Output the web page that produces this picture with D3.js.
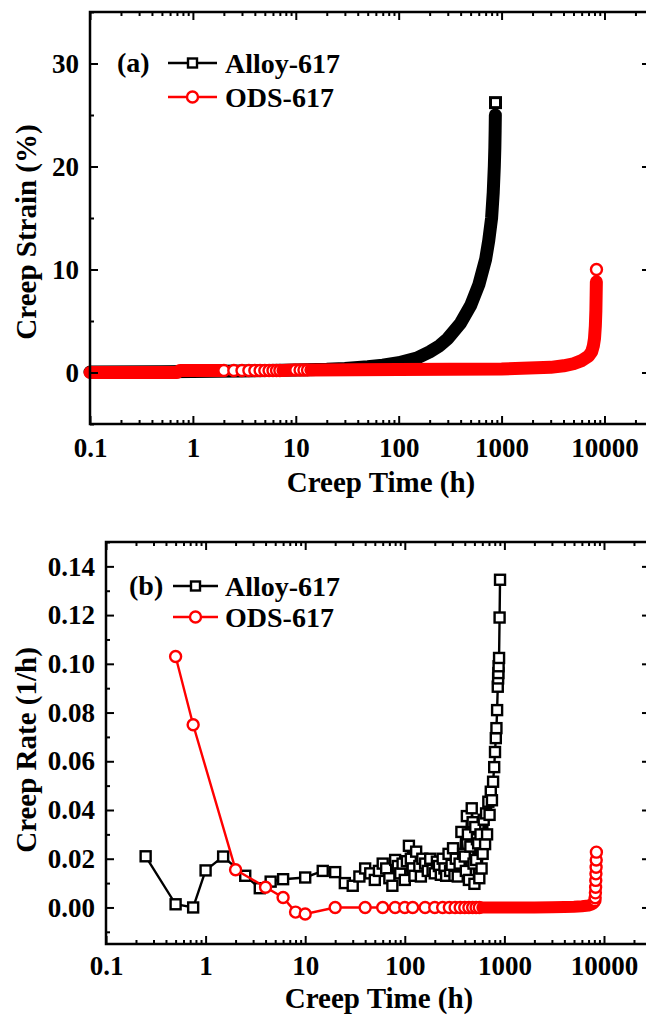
<!DOCTYPE html>
<html>
<head>
<meta charset="utf-8">
<script src="https://cdn.jsdelivr.net/npm/d3@7"></script>
<style>
body { margin: 0; background: #fff; }
svg text { font-family: "Liberation Serif", "Times New Roman", serif; font-weight: bold; }
</style>
</head>
<body>
<div id="chart"></div>
<script>
// ---- data ----
// (a) creep strain (%) vs creep time (h)
var alloyStrainT = [0.1, 0.5, 1, 3, 10, 20, 30, 50, 70, 100, 150, 200, 250, 300, 400, 500, 600, 700, 750, 800, 830, 850, 860, 866, 870, 873];
var alloyStrainV = [0.05, 0.08, 0.1, 0.15, 0.25, 0.32, 0.4, 0.55, 0.7, 0.95, 1.4, 2.0, 2.6, 3.3, 4.8, 6.5, 8.5, 11.0, 12.8, 15.0, 17.5, 20.0, 21.8, 23.5, 25.0, 26.2];
var odsStrainT = [0.1, 0.7, 0.75, 1.9, 2, 2.5, 3, 3.5, 4, 4.5, 5, 5.5, 6, 6.5, 7, 7.5, 9.5, 10, 11, 12, 13, 14, 100, 1000, 3000, 4000, 5000, 6000, 7000, 7500, 7800, 8000, 8150, 8250, 8300, 8340, 8360];
var odsStrainV = [0.0, 0.0, 0.2, 0.2, 0.2, 0.2, 0.2, 0.2, 0.2, 0.2, 0.2, 0.2, 0.2, 0.2, 0.2, 0.2, 0.25, 0.25, 0.25, 0.25, 0.25, 0.25, 0.3, 0.35, 0.5, 0.65, 0.85, 1.15, 1.6, 2.0, 2.6, 3.3, 4.5, 6.0, 7.5, 8.8, 10.0];

// (b) creep rate (1/h) vs creep time (h)
var alloyRateT = [0.25, 0.5, 0.75, 1, 1.5, 2.5, 3.5, 4.5, 6, 10, 15, 20, 25, 30, 35, 40, 45, 50, 55, 60, 65, 70, 75, 80, 85, 90, 95, 100, 105, 110, 115, 120, 125, 130, 140, 145, 150, 160, 170, 180, 190, 200, 210, 220, 230, 240, 250, 260, 275, 285, 295, 305, 315, 325, 340, 355, 370, 385, 400, 410, 420, 430, 440, 455, 470, 480, 490, 500, 510, 520, 530, 545, 560, 575, 590, 605, 620, 640, 655, 670, 690, 710, 730, 750, 770, 790, 805, 820, 832, 845, 858, 865, 870, 875, 884, 895, 904];
var alloyRateV = [0.0210, 0.0013, 0.0000, 0.0152, 0.0209, 0.0130, 0.0079, 0.0106, 0.0116, 0.0123, 0.0150, 0.0145, 0.0100, 0.0089, 0.0127, 0.0160, 0.0140, 0.0113, 0.0150, 0.0180, 0.0160, 0.0120, 0.0089, 0.0195, 0.0170, 0.0140, 0.0180, 0.0113, 0.0190, 0.0253, 0.0200, 0.0160, 0.0130, 0.0229, 0.0170, 0.0127, 0.0200, 0.0180, 0.0150, 0.0200, 0.0154, 0.0140, 0.0188, 0.0170, 0.0134, 0.0200, 0.0160, 0.0130, 0.0220, 0.0150, 0.0175, 0.0243, 0.0130, 0.0200, 0.0127, 0.0180, 0.0310, 0.0220, 0.0209, 0.0150, 0.0375, 0.0300, 0.0113, 0.0250, 0.0407, 0.0350, 0.0180, 0.0097, 0.0330, 0.0195, 0.0280, 0.0263, 0.0120, 0.0300, 0.0160, 0.0220, 0.0360, 0.0260, 0.0386, 0.0300, 0.0434, 0.0380, 0.0475, 0.0440, 0.0516, 0.0576, 0.0638, 0.0695, 0.0736, 0.0810, 0.0906, 0.0940, 0.0962, 0.0990, 0.1024, 0.1190, 0.1345];
var odsRateT = [0.5, 0.75, 2, 4, 6, 8, 10, 20, 40, 60, 80, 100, 120, 160, 200, 240, 280, 320, 360, 400, 440, 480, 520, 560, 600, 800, 1000, 2000, 3000, 4000, 5000, 6000, 7000, 7500, 7800, 8000, 8100, 8150, 8200, 8240, 8270, 8300, 8330, 8360, 8390];
var odsRateV = [0.103, 0.075, 0.0155, 0.0083, 0.0041, -0.0019, -0.0027, 0, 0, 0, 0, 0, 0, 0, 0, 0, 0, 0, 0, 0, 0, 0, 0, 0, 0, 0, 0, 0, 0.0001, 0.0002, 0.0003, 0.0005, 0.0008, 0.0012, 0.0016, 0.0020, 0.0028, 0.0040, 0.0060, 0.0083, 0.0111, 0.0138, 0.0165, 0.0195, 0.0227];

// tick labels
var timeTicks = [0.1, 1, 10, 100, 1000, 10000];
var timeTickLabels = ["0.1", "1", "10", "100", "1000", "10000"];
var strainTicks = [0, 10, 20, 30];
var strainTickLabels = ["0", "10", "20", "30"];
var rateTicks = [0, 0.02, 0.04, 0.06, 0.08, 0.10, 0.12, 0.14];
var rateTickLabels = ["0.00", "0.02", "0.04", "0.06", "0.08", "0.10", "0.12", "0.14"];
var seriesNames = ["Alloy-617", "ODS-617"];

// ---- layout ----
var W = 646, H = 1018;
var svg = d3.select("#chart").append("svg")
  .attr("width", W)
  .attr("height", H);

var panelA = {left: 90, right: 650, top: 12, bottom: 424, xMax: 27700, yDom: [-5, 35], pad: 14};
var panelB = {left: 106, right: 650, top: 542, bottom: 944, xMax: 28970, yDom: [-0.015, 0.15], pad: 12};

var xMinor = [];
[0.1, 1, 10, 100, 1000, 10000].forEach(function(d){
  for (var m = 2; m <= 9; m++) xMinor.push(m*d);
});

function drawFrame(p, x, y, yMajor, yLabels, yMinor){
  var fontSize = 27;
  var xMin = xMinor.filter(function(d){ return d < x.domain()[1]; });
  function style(g){
    g.select(".domain").remove();
    g.selectAll("line").attr("stroke", "#000").attr("stroke-width", 2);
    g.attr("font-size", fontSize).attr("font-family", null);
    g.selectAll("text").attr("fill", "#000");
  }
  // bottom
  svg.append("g").attr("transform", "translate(0," + p.bottom + ")")
    .call(d3.axisBottom(x).tickValues(timeTicks).tickFormat(function(d, i){ return timeTickLabels[i]; })
      .tickSizeInner(-8).tickSizeOuter(0).tickPadding(p.pad))
    .call(style);
  svg.append("g").attr("transform", "translate(0," + p.bottom + ")")
    .call(d3.axisBottom(x).tickValues(xMin).tickFormat("").tickSizeInner(-4).tickSizeOuter(0))
    .call(style);
  // top
  svg.append("g").attr("transform", "translate(0," + p.top + ")")
    .call(d3.axisTop(x).tickValues(timeTicks).tickFormat("").tickSizeInner(-8).tickSizeOuter(0))
    .call(style);
  svg.append("g").attr("transform", "translate(0," + p.top + ")")
    .call(d3.axisTop(x).tickValues(xMin).tickFormat("").tickSizeInner(-4).tickSizeOuter(0))
    .call(style);
  // left
  svg.append("g").attr("transform", "translate(" + p.left + ",0)")
    .call(d3.axisLeft(y).tickValues(yMajor).tickFormat(function(d, i){ return yLabels[i]; })
      .tickSizeInner(-8).tickSizeOuter(0).tickPadding(11))
    .call(style);
  svg.append("g").attr("transform", "translate(" + p.left + ",0)")
    .call(d3.axisLeft(y).tickValues(yMinor).tickFormat("").tickSizeInner(-4).tickSizeOuter(0))
    .call(style);
  // right
  svg.append("g").attr("transform", "translate(" + p.right + ",0)")
    .call(d3.axisRight(y).tickValues(yMajor).tickFormat("").tickSizeInner(-8).tickSizeOuter(0))
    .call(style);
  svg.append("g").attr("transform", "translate(" + p.right + ",0)")
    .call(d3.axisRight(y).tickValues(yMinor).tickFormat("").tickSizeInner(-4).tickSizeOuter(0))
    .call(style);

  svg.append("rect")
    .attr("x", p.left).attr("y", p.top)
    .attr("width", p.right - p.left).attr("height", p.bottom - p.top)
    .attr("fill", "none").attr("stroke", "#000").attr("stroke-width", 2.5);
}

function marker(g, shape, cx, cy, color, size, sw){
  if (shape == "square"){
    g.append("rect")
      .attr("x", cx - size/2).attr("y", cy - size/2)
      .attr("width", size).attr("height", size)
      .attr("fill", "#fff").attr("stroke", color).attr("stroke-width", sw);
  } else {
    g.append("circle")
      .attr("cx", cx).attr("cy", cy).attr("r", size/2)
      .attr("fill", "#fff").attr("stroke", color).attr("stroke-width", sw);
  }
}

// solid: time ranges where the symbols are so dense they merge into one thick band
function drawSeries(g, x, y, ts, vs, o){
  var pts = ts.map(function(t, i){ return [x(t), y(vs[i]), t]; });
  var line = d3.line();
  g.append("path")
    .attr("d", line(pts.map(function(p){ return [p[0], p[1]]; })))
    .attr("fill", "none").attr("stroke", o.color).attr("stroke-width", 2.4);

  function inSolid(t){
    return (o.solid || []).some(function(r){ return t >= r[0] && t <= r[1]; });
  }
  // walk runs in data order so later symbols cover earlier ones
  var runs = [];
  pts.forEach(function(p){
    var s = inSolid(p[2]);
    if (!runs.length || runs[runs.length-1].solid != s) runs.push({solid: s, pts: []});
    runs[runs.length-1].pts.push(p);
  });
  runs.forEach(function(r){
    if (r.solid){
      g.append("path")
        .attr("d", line(r.pts.map(function(p){ return [p[0], p[1]]; })))
        .attr("fill", "none").attr("stroke", o.color)
        .attr("stroke-width", o.band)
        .attr("stroke-linejoin", "round").attr("stroke-linecap", "round");
    } else {
      r.pts.forEach(function(p){ marker(g, o.shape, p[0], p[1], o.color, o.size, o.sw); });
    }
  });
}

function legend(items, label, lx, ly, gap){
  svg.append("text").attr("x", lx).attr("y", ly[0] + 9).attr("font-size", 28).text(label);
  items.forEach(function(it, i){
    var yy = ly[i];
    svg.append("line")
      .attr("x1", gap[0]).attr("x2", gap[1]).attr("y1", yy).attr("y2", yy)
      .attr("stroke", it.color).attr("stroke-width", 2.6);
    marker(svg, it.shape, (gap[0] + gap[1])/2, yy, it.color, it.size, 2.4);
    svg.append("text").attr("x", gap[2]).attr("y", yy + 10).attr("font-size", 28).text(seriesNames[i]);
  });
}

// ---- panel (a) ----
var xA = d3.scaleLog().domain([0.1, panelA.xMax]).range([panelA.left, panelA.right]);
var yA = d3.scaleLinear().domain(panelA.yDom).range([panelA.bottom, panelA.top]);
var gA = svg.append("g");
drawSeries(gA, xA, yA, alloyStrainT, alloyStrainV,
  {color: "#000", shape: "square", size: 10, sw: 3, band: 13, solid: [[0.1, 871]]});
drawSeries(gA, xA, yA, odsStrainT, odsStrainV,
  {color: "#ff0000", shape: "circle", size: 11, sw: 2.4, band: 13, solid: [[0.1, 1.95], [7.2, 9.7], [13.5, 8350]]});
drawFrame(panelA, xA, yA, strainTicks, strainTickLabels, [-5, 5, 15, 25, 35]);
legend([{color: "#000", shape: "square", size: 9}, {color: "#ff0000", shape: "circle", size: 11}],
  "(a)", 117, [63, 97], [168, 217, 225]);

svg.append("text").attr("x", 381).attr("y", 492).attr("text-anchor", "middle").attr("font-size", 29).text("Creep Time (h)");
svg.append("text").attr("transform", "translate(36,232) rotate(-90)").attr("text-anchor", "middle").attr("font-size", 29).text("Creep Strain (%)");

// ---- panel (b) ----
var xB = d3.scaleLog().domain([0.1, panelB.xMax]).range([panelB.left, panelB.right]);
var yB = d3.scaleLinear().domain(panelB.yDom).range([panelB.bottom, panelB.top]);
var gB = svg.append("g");
drawSeries(gB, xB, yB, alloyRateT, alloyRateV,
  {color: "#000", shape: "square", size: 10, sw: 2.4});
drawSeries(gB, xB, yB, odsRateT, odsRateV,
  {color: "#ff0000", shape: "circle", size: 11, sw: 2.4, band: 12, solid: [[590, 8050]]});
drawFrame(panelB, xB, yB, rateTicks, rateTickLabels, [-0.01, 0.01, 0.03, 0.05, 0.07, 0.09, 0.11, 0.13, 0.15]);
legend([{color: "#000", shape: "square", size: 9}, {color: "#ff0000", shape: "circle", size: 11}],
  "(b)", 129, [586, 617], [173, 218, 225]);

svg.append("text").attr("x", 379).attr("y", 1008).attr("text-anchor", "middle").attr("font-size", 29).text("Creep Time (h)");
svg.append("text").attr("transform", "translate(36,750) rotate(-90)").attr("text-anchor", "middle").attr("font-size", 29).text("Creep Rate (1/h)");
</script>
</body>
</html>
